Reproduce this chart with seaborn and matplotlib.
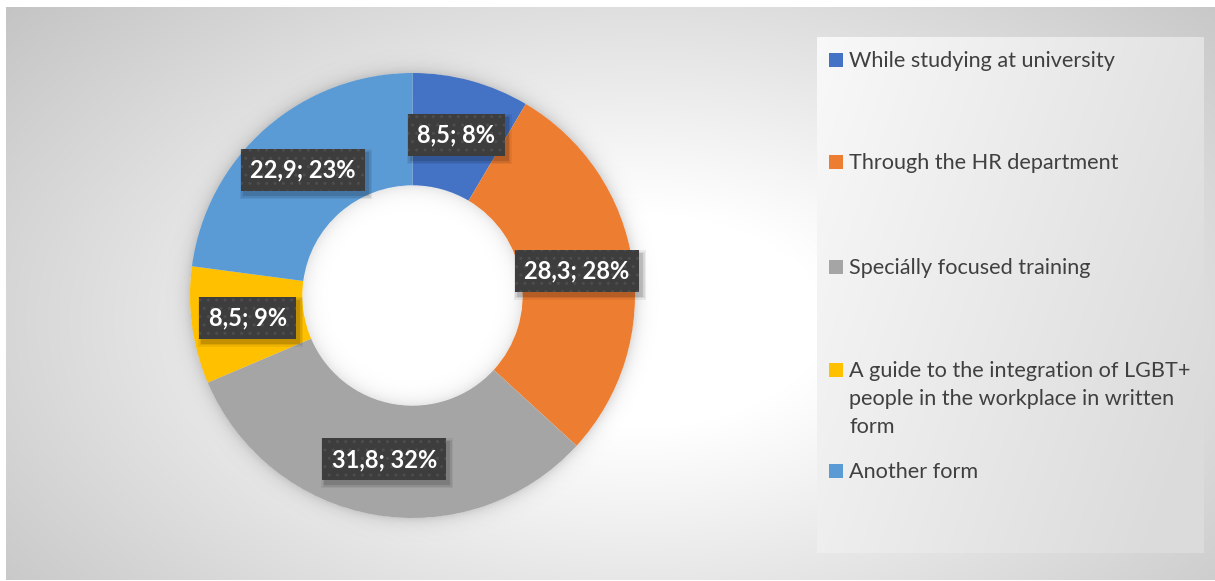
import numpy as np
import matplotlib
matplotlib.use("Agg")
import matplotlib.pyplot as plt
import matplotlib.transforms as mtransforms
from matplotlib.patches import Rectangle
import seaborn as sns

# ---- data -------------------------------------------------------------
categories = [
    "While studying at university",
    "Through the HR department",
    "Speciálly focused training",
    "A guide to the integration of LGBT+\npeople in the workplace in written\nform",
    "Another form",
]
values = [8.5, 28.3, 31.8, 8.5, 22.9]
value_labels = ["8,5", "28,3", "31,8", "8,5", "22,9"]
pct_labels = ["8%", "28%", "32%", "9%", "23%"]
colors_hex = ["#4472C4", "#ED7D31", "#A5A5A5", "#FFC000", "#5B9BD5"]

sns.set_theme(style="white")
plt.rcParams["font.family"] = ["Lato", "DejaVu Sans"]
palette = sns.color_palette(colors_hex)

W, H = 1215, 581
fig = plt.figure(figsize=(W / 100, H / 100), dpi=100)
fig.patch.set_facecolor("white")

# ---- radial gradient chart area --------------------------------------
bg = fig.add_axes([6 / W, 1 / H, (W - 6) / W, (H - 8) / H])
bg.set_axis_off()
yy, xx = np.mgrid[0:400, 0:800]
px = 6 + xx / 800 * (W - 6)
py = 7 + yy / 400 * (H - 8)
d = np.sqrt(((px - 640) / 620) ** 2 + ((py - 320) / 360) ** 2)
shade = 1.0 - 0.23 * np.clip((d - 0.3) / 1.04, 0, 1)
bg.imshow(np.dstack([shade] * 3), extent=[0, 1, 0, 1], origin="upper",
          aspect="auto", interpolation="bilinear")
bg.set_xlim(0, 1)
bg.set_ylim(0, 1)

# ---- legend panel -----------------------------------------------------
lx0, lx1, ly0, ly1 = 817, 1204, 37, 553
lg = fig.add_axes([lx0 / W, 1 - ly1 / H, (lx1 - lx0) / W, (ly1 - ly0) / H])
lg.set_axis_off()
gy, gx = np.mgrid[0:200, 0:200] / 199.0
g = 0.975 - 0.115 * np.clip(0.75 * gx + 0.35 * gy, 0, 1)
lg.imshow(np.dstack([g] * 3), extent=[0, 1, 0, 1], origin="upper",
          aspect="auto", interpolation="bilinear")
lg.set_xlim(0, 1)
lg.set_ylim(0, 1)

legend_rows = [60, 162, 267, 370, 471]
for cat, col, yrow in zip(categories, palette, legend_rows):
    fig.patches.append(Rectangle((829 / W, 1 - (yrow + 7) / H), 14 / W, 14 / H,
                                 transform=fig.transFigure, facecolor=col,
                                 edgecolor="none"))
    fig.text(849 / W, 1 - (yrow - 9) / H, cat, ha="left", va="top",
             fontsize=15.6, color="#404040", linespacing=1.5)

# ---- donut ------------------------------------------------------------
cx, cy, R = 412.5, 295.5, 222.5
M = 1.12  # axes half-extent in radius units (room for the glow)
ax = fig.add_axes([(cx - M * R) / W, 1 - (cy + M * R) / H,
                   2 * M * R / W, 2 * M * R / H])
ax.set_axis_off()
hole = 0.495

# soft shadow around the ring and inside the hole
gyy, gxx = np.mgrid[-M:M:600j, -M:M:600j]
rr = np.hypot(gxx, gyy)
alpha = np.where(rr > 1.0, 0.14 * np.exp(-(rr - 1.0) / 0.03), 0.0)
alpha = np.where(rr < hole, 0.10 * np.exp(-(hole - rr) / 0.035), alpha)
glow = np.zeros(rr.shape + (4,))
glow[..., 3] = alpha
ax.add_patch(plt.Circle((0, 0), hole + 0.01, facecolor="white",
                        edgecolor="none", zorder=0.5))
ax.imshow(glow, extent=[-M, M, -M, M], origin="lower", zorder=1,
          interpolation="bilinear")

wedges, _ = ax.pie(values, colors=palette, startangle=90, counterclock=False,
                   radius=1.0, wedgeprops=dict(width=1 - hole, edgecolor="none",
                                               zorder=2))
ax.set_xlim(-M, M)
ax.set_ylim(-M, M)
ax.set_aspect("equal")

plt.rcParams["hatch.linewidth"] = 1.0
r_mid = 1.0 - (1 - hole) / 2
labels = []
for w, v, p in zip(wedges, value_labels, pct_labels):
    ang = np.deg2rad((w.theta1 + w.theta2) / 2)
    t = ax.text(r_mid * np.cos(ang), r_mid * np.sin(ang), f"{v}; {p}",
                ha="center", va="center", fontsize=17, fontweight="bold",
                color="white", zorder=10,
                bbox=dict(boxstyle="square,pad=0.4", facecolor="#3d3d3d",
                          edgecolor="#4d4d4d", linewidth=0, hatch=".."))
    labels.append(t)

# drop shadows behind the label boxes
fig.canvas.draw()
ident = mtransforms.IdentityTransform()
for t in labels:
    bb = t.get_bbox_patch().get_window_extent()
    for grow, a in [(4, 0.06), (2.5, 0.08), (1, 0.12)]:
        ax.add_patch(Rectangle((bb.x0 + 3 - grow, bb.y0 - 4 - grow),
                               bb.width + 2 * grow, bb.height + 2 * grow,
                               transform=ident, facecolor="black",
                               edgecolor="none", alpha=a, zorder=9,
                               clip_on=False))

fig.savefig("out.png", dpi=100)
